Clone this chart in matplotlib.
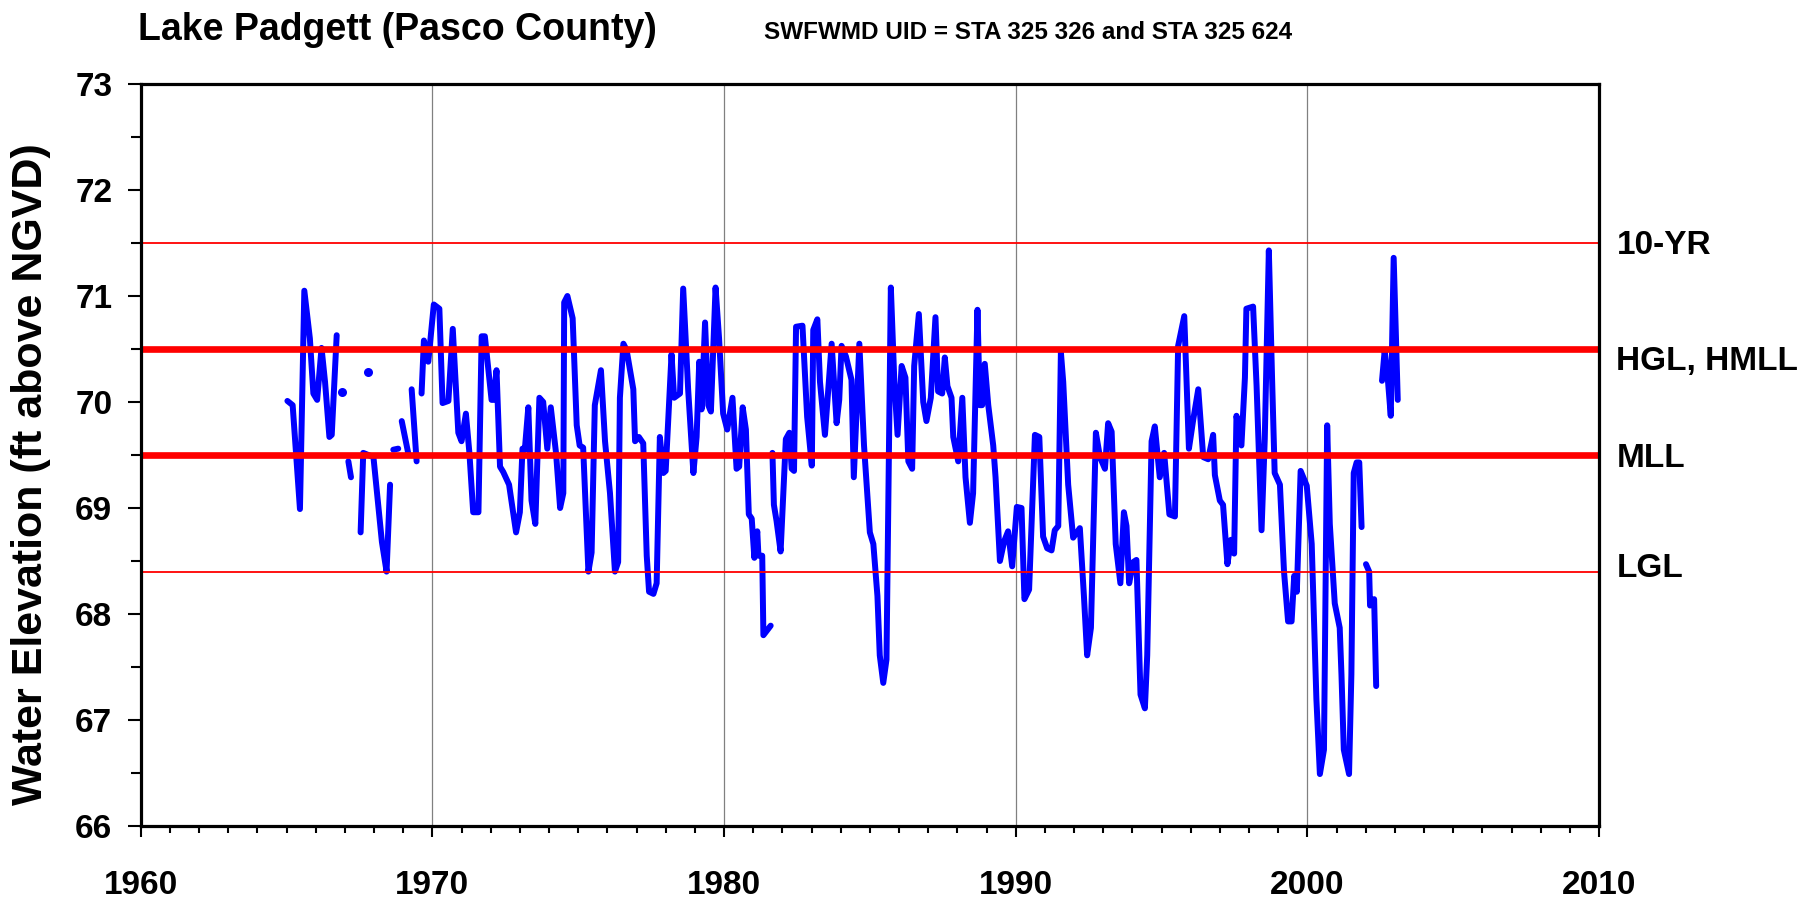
import numpy as np
import matplotlib
matplotlib.use("Agg")
import matplotlib.pyplot as plt
from matplotlib.ticker import MultipleLocator

nan = np.nan

# ---- data (decimal year, water elevation ft NGVD); NaN marks gaps ----
years = [
    1965.03, 1965.21, 1965.46, 1965.61, 1965.80, 1965.92, 1966.05, 1966.20, 1966.32, 1966.47, 1966.55, 1966.72,
    nan,
    1967.12, 1967.21,
    nan,
    1967.54, 1967.63, 1967.98, 1968.09, 1968.27, 1968.43, 1968.55,
    nan,
    1968.66, 1968.83,
    nan,
    1968.95, 1969.17,
    nan,
    1969.29, 1969.46,
    nan,
    1969.63, 1969.71, 1969.86, 1970.05, 1970.24, 1970.35, 1970.55, 1970.70, 1970.89, 1971.00,
    1971.15, 1971.27, 1971.40, 1971.58, 1971.69, 1971.80, 1972.03, 1972.10, 1972.20, 1972.32,
    1972.43, 1972.63, 1972.87, 1973.00, 1973.09, 1973.17, 1973.29, 1973.40, 1973.53, 1973.67,
    1973.80, 1973.94, 1974.06, 1974.24, 1974.38, 1974.49, 1974.52, 1974.63, 1974.81, 1974.95,
    1975.05, 1975.17, 1975.35, 1975.46, 1975.57, 1975.78, 1975.92, 1976.09, 1976.26, 1976.37,
    1976.43, 1976.55, 1976.66, 1976.89, 1976.95, 1977.08, 1977.23, 1977.35, 1977.43, 1977.58,
    1977.69, 1977.80, 1977.92, 1978.00, 1978.20, 1978.29, 1978.49, 1978.60, 1978.77, 1978.95,
    1979.06, 1979.15, 1979.23, 1979.35, 1979.46, 1979.55, 1979.71, 1979.83, 1979.97, 1980.11,
    1980.29, 1980.43, 1980.52, 1980.64, 1980.75, 1980.85, 1980.95, 1981.04, 1981.14, 1981.18,
    1981.31, 1981.35, 1981.60,
    nan,
    1981.66, 1981.71, 1981.80, 1981.94, 1982.12, 1982.24, 1982.32, 1982.40, 1982.47, 1982.69,
    1982.85, 1983.01, 1983.06, 1983.20, 1983.29, 1983.46, 1983.69, 1983.86, 1983.95, 1984.03,
    1984.18, 1984.37, 1984.45, 1984.64, 1984.80, 1984.89, 1985.00, 1985.12, 1985.26, 1985.34,
    1985.46, 1985.57, 1985.72, 1985.84, 1985.95, 1986.09, 1986.22, 1986.32, 1986.45, 1986.52,
    1986.68, 1986.83, 1986.94, 1987.09, 1987.25, 1987.34, 1987.48, 1987.57, 1987.66, 1987.80,
    1987.86, 1988.03, 1988.17, 1988.28, 1988.43, 1988.54, 1988.69, 1988.77, 1988.85, 1988.94,
    1989.06, 1989.23, 1989.31, 1989.46, 1989.61, 1989.74, 1989.88, 1990.04, 1990.20, 1990.30,
    1990.46, 1990.66, 1990.81, 1990.94, 1991.08, 1991.23, 1991.34, 1991.46, 1991.55, 1991.63,
    1991.80, 1991.97, 1992.20, 1992.34, 1992.45, 1992.58, 1992.75, 1992.89, 1993.06, 1993.17,
    1993.29, 1993.43, 1993.59, 1993.71, 1993.80, 1993.89, 1994.03, 1994.14, 1994.28, 1994.43,
    1994.51, 1994.66, 1994.77, 1994.94, 1995.09, 1995.27, 1995.46, 1995.57, 1995.78, 1995.94,
    1996.08, 1996.26, 1996.43, 1996.60, 1996.77, 1996.83, 1997.00, 1997.11, 1997.26, 1997.38,
    1997.49, 1997.57, 1997.74, 1997.86, 1997.91, 1998.03, 1998.14, 1998.26, 1998.43, 1998.54,
    1998.68, 1998.79, 1998.88, 1999.06, 1999.20, 1999.34, 1999.46, 1999.55, 1999.64, 1999.77,
    1999.98, 2000.15, 2000.31, 2000.43, 2000.57, 2000.68, 2000.77, 2000.94, 2001.11, 2001.17,
    2001.25, 2001.43, 2001.51, 2001.59, 2001.69, 2001.78, 2001.86,
    nan,
    2002.01, 2002.12, 2002.15, 2002.29, 2002.36,
    nan,
    2002.56, 2002.65, 2002.75, 2002.86, 2002.96, 2003.10,
]

levels = [
    70.01, 69.97, 68.99, 71.05, 70.60, 70.08, 70.02, 70.51, 70.19, 69.67, 69.69, 70.63,
    nan,
    69.44, 69.29,
    nan,
    68.77, 69.52, 69.48, 69.18, 68.68, 68.40, 69.22,
    nan,
    69.55, 69.56,
    nan,
    69.82, 69.52,
    nan,
    70.12, 69.44,
    nan,
    70.08, 70.58, 70.38, 70.92, 70.88, 69.99, 70.01, 70.69, 69.71, 69.63,
    69.89, 69.52, 68.96, 68.96, 70.62, 70.62, 70.02, 70.02, 70.30, 69.39,
    69.34, 69.22, 68.77, 68.96, 69.56, 69.55, 69.95, 69.07, 68.85, 70.04,
    70.00, 69.56, 69.95, 69.52, 69.00, 69.14, 70.94, 71.00, 70.79, 69.78,
    69.59, 69.57, 68.40, 68.58, 69.97, 70.30, 69.63, 69.14, 68.40, 68.49,
    70.04, 70.55, 70.49, 70.12, 69.63, 69.67, 69.61, 68.55, 68.21, 68.19,
    68.29, 69.67, 69.33, 69.35, 70.45, 70.04, 70.08, 71.07, 70.12, 69.33,
    69.67, 70.38, 69.93, 70.75, 69.97, 69.91, 71.08, 70.60, 69.89, 69.74,
    70.04, 69.37, 69.39, 69.95, 69.74, 68.94, 68.90, 68.53, 68.78, 68.55,
    68.55, 67.80, 67.89,
    nan,
    69.52, 69.03, 68.88, 68.59, 69.65, 69.71, 69.37, 69.35, 70.71, 70.72,
    69.86, 69.40, 70.68, 70.78, 70.19, 69.69, 70.55, 69.80, 70.02, 70.53,
    70.43, 70.21, 69.29, 70.55, 69.59, 69.22, 68.77, 68.66, 68.17, 67.61,
    67.35, 67.57, 71.08, 70.19, 69.69, 70.34, 70.23, 69.44, 69.37, 70.34,
    70.83, 70.00, 69.82, 70.04, 70.80, 70.10, 70.08, 70.42, 70.15, 70.04,
    69.67, 69.44, 70.04, 69.29, 68.86, 69.14, 70.87, 69.97, 69.97, 70.36,
    69.97, 69.59, 69.29, 68.50, 68.69, 68.78, 68.45, 69.01, 69.00, 68.14,
    68.23, 69.69, 69.67, 68.73, 68.62, 68.60, 68.79, 68.83, 70.47, 70.19,
    69.22, 68.72, 68.81, 68.17, 67.61, 67.87, 69.71, 69.48, 69.37, 69.80,
    69.72, 68.66, 68.29, 68.96, 68.83, 68.29, 68.49, 68.51, 67.24, 67.11,
    67.61, 69.63, 69.77, 69.29, 69.52, 68.94, 68.92, 70.53, 70.81, 69.56,
    69.82, 70.12, 69.48, 69.46, 69.69, 69.31, 69.07, 69.03, 68.47, 68.70,
    68.57, 69.87, 69.59, 70.23, 70.88, 70.89, 70.90, 70.15, 68.79, 69.65,
    71.43, 70.23, 69.33, 69.22, 68.40, 67.93, 67.93, 68.36, 68.21, 69.35,
    69.21, 68.66, 67.20, 66.49, 66.72, 69.78, 68.85, 68.10, 67.87, 67.43,
    66.72, 66.49, 67.43, 69.33, 69.43, 69.43, 68.82,
    nan,
    68.47, 68.40, 68.08, 68.14, 67.32,
    nan,
    70.20, 70.48, 70.25, 69.87, 71.36, 70.02,
]

# isolated single readings
dot_years = [1966.89, 1967.80]
dot_levels = [70.09, 70.28]

# reference levels
ref_names = ["10-YR", "HGL, HMLL", "MLL", "LGL"]
ref_values = [71.5, 70.5, 69.5, 68.4]
ref_thick = [False, True, True, False]

title = "Lake Padgett (Pasco County)"
subtitle = "SWFWMD UID = STA 325 326 and STA 325 624"
ylabel = "Water Elevation (ft above NGVD)"

FONT = "Liberation Sans"
plt.rcParams["font.family"] = [FONT, "DejaVu Sans"]
plt.rcParams["font.weight"] = "bold"

W, H = 1805, 898
fig = plt.figure(figsize=(W / 100, H / 100), dpi=100)
x0, x1, y0, y1 = 140.7, 1599, 84, 826
ax = fig.add_axes([x0 / W, 1 - y1 / H, (x1 - x0) / W, (y1 - y0) / H])

ax.set_xlim(1960, 2010)
ax.set_ylim(66, 73)

# vertical grid lines
for g in [1970, 1980, 1990, 2000]:
    ax.axvline(g, color="#808080", lw=0.9, zorder=1)

ax.plot(years, levels, color="#0000FF", lw=4.3, solid_capstyle="round",
        solid_joinstyle="round", zorder=2)
ax.plot(dot_years, dot_levels, "o", color="#0000FF", ms=6.5, mew=0, zorder=2)

label_off = {"10-YR": -0.02, "HGL, HMLL": -0.12, "MLL": -0.03, "LGL": 0.03}
for name, val, thick in zip(ref_names, ref_values, ref_thick):
    ax.axhline(val, color="#FF0000", lw=4.8 if thick else 1.3, zorder=3,
               solid_capstyle="butt")
    ax.text(2010.6, val + label_off[name], name, ha="left", va="center",
            fontsize=24, fontweight="bold", family=FONT, clip_on=False)

ax.xaxis.set_major_locator(MultipleLocator(10))
ax.xaxis.set_minor_locator(MultipleLocator(1))
ax.yaxis.set_major_locator(MultipleLocator(1))
ax.yaxis.set_minor_locator(MultipleLocator(0.5))

ax.tick_params(axis="x", which="major", direction="out", length=7.7, width=1.5, pad=24,
               labelsize=24)
ax.tick_params(axis="x", which="minor", direction="out", length=5, width=1.5)
ax.tick_params(axis="y", which="major", direction="out", length=9.4, width=1.5, pad=11,
               labelsize=24)
ax.tick_params(axis="y", which="minor", direction="out", length=7, width=1.5)
for lab in ax.get_xticklabels() + ax.get_yticklabels():
    lab.set_fontweight("bold")
    lab.set_family(FONT)

for sp in ax.spines.values():
    sp.set_linewidth(2.3)
    sp.set_color("black")
    sp.set_zorder(5)

fig.text(31 / W, 1 - 474 / H, ylabel, rotation=90, ha="center", va="center",
         fontsize=31, fontweight="bold", family=FONT)
fig.text(138 / W, 1 - 40 / H, title, ha="left", va="baseline",
         fontsize=27, fontweight="bold", family=FONT)
fig.text(764 / W, 1 - 39 / H, subtitle, ha="left", va="baseline",
         fontsize=17.5, fontweight="bold", family=FONT)

fig.savefig("out.png", dpi=100, facecolor="white")
